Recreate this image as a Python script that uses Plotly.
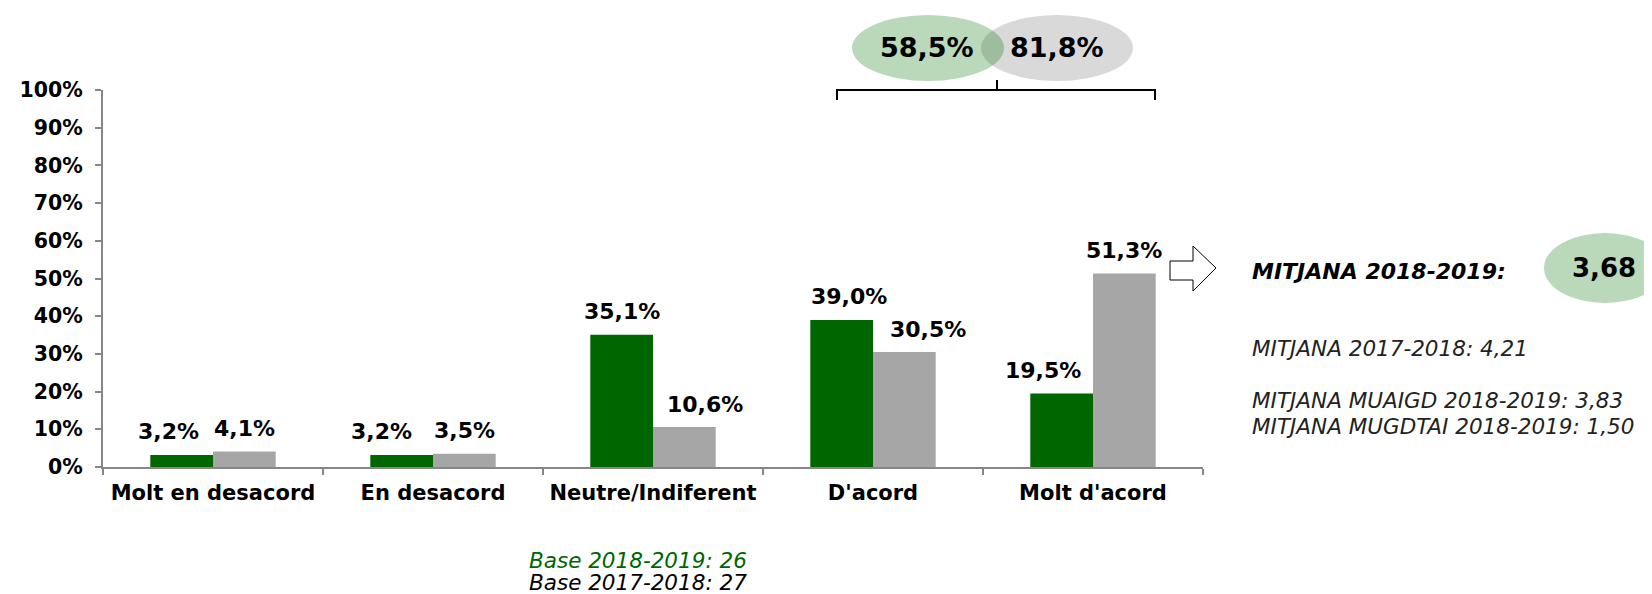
import plotly.graph_objects as go

categories = ["Molt en desacord", "En desacord", "Neutre/Indiferent", "D'acord", "Molt d'acord"]
values_2018_2019 = [0.032, 0.032, 0.351, 0.390, 0.195]
values_2017_2018 = [0.041, 0.035, 0.106, 0.305, 0.513]
y_ticks = [0, 0.1, 0.2, 0.3, 0.4, 0.5, 0.6, 0.7, 0.8, 0.9, 1.0]
agree_2018_2019 = "58,5%"
agree_2017_2018 = "81,8%"
mean_label = "MITJANA 2018-2019:"
mean_value = "3,68"
other_means = ["MITJANA 2017-2018: 4,21", "MITJANA MUAIGD 2018-2019: 3,83", "MITJANA MUGDTAI 2018-2019: 1,50"]
base_lines = ["Base 2018-2019: 26", "Base 2017-2018: 27"]

# label placement tweaks (pixels, relative to the bar's centre) as in the reference
label_dx_2018_2019 = [-14, -21, 0, 7, -19]
label_dx_2017_2018 = [0, 0, 21, 24, 0]

W, H = 1652, 594
OFF = 8  # default body margin of the page
L, R, T, B = 103, 1203, 90, 467
FONT = "Verdana, DejaVu Sans, sans-serif"
GREEN = "#006600"
GRAY = "#A6A6A6"
BAR_HALF = 31


def px(x):
    return (x - L) / (R - L)


def py(y):
    return (B - y) / (B - T)


fig = go.Figure()
for vals, col, nm in [(values_2018_2019, GREEN, "2018-2019"), (values_2017_2018, GRAY, "2017-2018")]:
    fig.add_bar(x=categories, y=vals, marker_color=col, marker_line_width=0, name=nm)

shapes = []
shapes.append(dict(type="circle", xref="paper", yref="paper", x0=px(981), x1=px(1133), y0=py(81), y1=py(15),
                   fillcolor="#D9D9D9", line_width=0, layer="above"))
shapes.append(dict(type="circle", xref="paper", yref="paper", x0=px(852), x1=px(1004), y0=py(81), y1=py(15),
                   fillcolor="rgba(0,110,0,0.27)", line_width=0, layer="above"))
bx0, bx1, bm, by_top, by_bot, by_mid = 837, 1155, 997, 90, 100, 80
path = (f"M {px(bx0)},{py(by_bot)} L {px(bx0)},{py(by_top)} L {px(bx1)},{py(by_top)} L {px(bx1)},{py(by_bot)} "
        f"M {px(bm)},{py(by_top)} L {px(bm)},{py(by_mid)}")
shapes.append(dict(type="path", xref="paper", yref="paper", path=path, line=dict(color="black", width=2)))
pts = [(1170, 261), (1193, 261), (1193, 246), (1216, 268), (1193, 291), (1193, 280), (1170, 280)]
apath = "M " + " L ".join(f"{px(a)},{py(b)}" for a, b in pts) + " Z"
shapes.append(dict(type="path", xref="paper", yref="paper", path=apath, fillcolor="white",
                   line=dict(color="black", width=1)))
shapes.append(dict(type="circle", xref="paper", yref="paper", x0=px(1544), x1=px(1666), y0=py(303), y1=py(233),
                   fillcolor="rgba(0,110,0,0.27)", line_width=0, layer="above"))


def ann(x, y, text, size, color="black", xanchor="center"):
    return dict(xref="paper", yref="paper", x=px(x), y=py(y), text=text, showarrow=False,
                xanchor=xanchor, yanchor="middle", font=dict(family=FONT, size=size, color=color))


annotations = [
    ann(927, 48, f"<b>{agree_2018_2019}</b>", 27),
    ann(1057, 48, f"<b>{agree_2017_2018}</b>", 27),
    ann(1250, 271, f"<b><i>{mean_label}</i></b>", 22, xanchor="left"),
    ann(1604, 268, f"<b>{mean_value}</b>", 26),
]
for txt, yy in zip(other_means, [348, 400, 426]):
    annotations.append(ann(1250, yy, f"<i>{txt}</i>", 21.5, color="#222222", xanchor="left"))
for txt, yy, col in zip(base_lines, [560, 582], [GREEN, "black"]):
    annotations.append(ann(527, yy, f"<i>{txt}</i>", 21.5, color=col, xanchor="left"))

# data labels
for vals, dxs, side in [(values_2018_2019, label_dx_2018_2019, -1), (values_2017_2018, label_dx_2017_2018, 1)]:
    for cat, v, dx in zip(categories, vals, dxs):
        annotations.append(dict(xref="x", yref="y", x=cat, y=v, xshift=side * BAR_HALF + dx, yshift=23,
                                text=f"<b>{v * 100:.1f}%</b>".replace(".", ","), showarrow=False,
                                xanchor="center", yanchor="middle",
                                font=dict(family=FONT, size=22, color="black")))

fig.update_layout(
    width=W - OFF, height=H - OFF,
    margin=dict(l=L - OFF, r=W - R, t=T - OFF, b=H - B, pad=0),
    paper_bgcolor="white", plot_bgcolor="white",
    barmode="group", bargap=0.43, bargroupgap=0,
    showlegend=False,
    separators=",.",
    shapes=shapes, annotations=annotations,
    font=dict(family=FONT, color="black"),
    xaxis=dict(showline=True, linecolor="#868686", linewidth=2, ticks="outside", tickson="boundaries",
               ticklen=6, tickcolor="#868686", tickwidth=2, showgrid=False, ticklabelstandoff=6,
               tickfont=dict(family=FONT, size=21, color="black", weight="bold")),
    yaxis=dict(range=[0, 1], tickvals=y_ticks, tickformat=".0%", showline=True, linecolor="#868686",
               linewidth=2, ticks="outside", ticklen=6, tickcolor="#868686", tickwidth=2,
               showgrid=False, zeroline=False, ticklabelstandoff=8,
               tickfont=dict(family=FONT, size=20.5, color="black", weight="bold")),
)

fig.write_html("out.html")
